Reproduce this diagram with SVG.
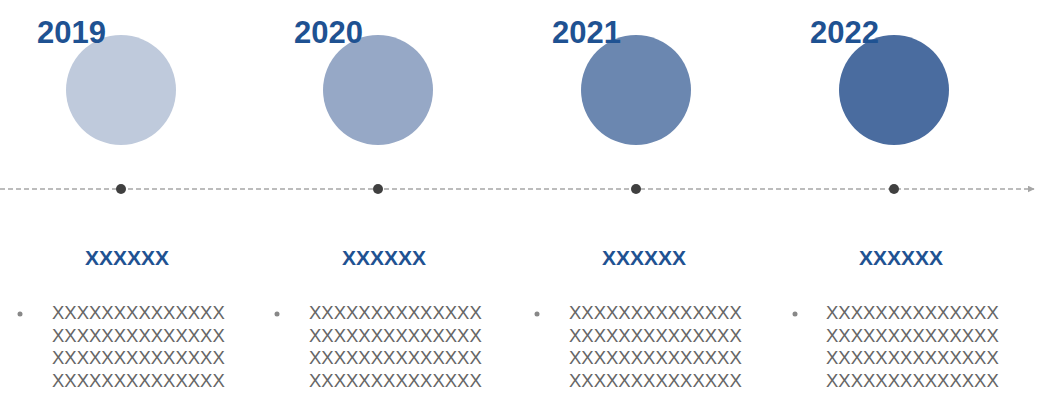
<svg xmlns="http://www.w3.org/2000/svg" width="1042" height="420" viewBox="0 0 1042 420">
<style>
.yr{font-family:"Liberation Sans",Arial,sans-serif;font-weight:bold;font-size:31px;fill:#1F5292}
.hd{font-family:"Liberation Sans",Arial,sans-serif;font-weight:bold;font-size:21px;fill:#1F5292;text-anchor:middle}
.bd{font-family:"Liberation Sans",Arial,sans-serif;font-size:18.5px;fill:#666666}
.dot{fill:#404040}
.bul{fill:#888888}
</style>
<defs>
<marker id="arr" viewBox="0 0 10 10" refX="9" refY="5" markerWidth="7" markerHeight="7" orient="auto" markerUnits="userSpaceOnUse" >
<path d="M0,0 L10,5 L0,10 z" fill="#A6A6A6"/>
</marker>
</defs>
<g id="connectors">
<line x1="0" y1="189" x2="1034" y2="189" stroke="#A6A6A6" stroke-width="1.5" stroke-dasharray="5,3" marker-end="url(#arr)"/>
</g>
<g id="node-2019">
<circle cx="121" cy="90" r="55" fill="#BFCADC"/>
<text class="yr" x="37" y="43">2019</text>
<circle class="dot" cx="121" cy="189" r="5"/>
<text class="hd" x="127" y="265">XXXXXX</text>
<circle class="bul" cx="20" cy="314" r="2.5"/>
<text class="bd" x="52" y="319">XXXXXXXXXXXXXX</text>
<text class="bd" x="52" y="342">XXXXXXXXXXXXXX</text>
<text class="bd" x="52" y="364">XXXXXXXXXXXXXX</text>
<text class="bd" x="52" y="387">XXXXXXXXXXXXXX</text>
</g>
<g id="node-2020">
<circle cx="378" cy="90" r="55" fill="#96A8C6"/>
<text class="yr" x="294" y="43">2020</text>
<circle class="dot" cx="378" cy="189" r="5"/>
<text class="hd" x="384" y="265">XXXXXX</text>
<circle class="bul" cx="277" cy="314" r="2.5"/>
<text class="bd" x="309" y="319">XXXXXXXXXXXXXX</text>
<text class="bd" x="309" y="342">XXXXXXXXXXXXXX</text>
<text class="bd" x="309" y="364">XXXXXXXXXXXXXX</text>
<text class="bd" x="309" y="387">XXXXXXXXXXXXXX</text>
</g>
<g id="node-2021">
<circle cx="636" cy="90" r="55" fill="#6B87B0"/>
<text class="yr" x="552" y="43">2021</text>
<circle class="dot" cx="636" cy="189" r="5"/>
<text class="hd" x="644" y="265">XXXXXX</text>
<circle class="bul" cx="537" cy="314" r="2.5"/>
<text class="bd" x="569" y="319">XXXXXXXXXXXXXX</text>
<text class="bd" x="569" y="342">XXXXXXXXXXXXXX</text>
<text class="bd" x="569" y="364">XXXXXXXXXXXXXX</text>
<text class="bd" x="569" y="387">XXXXXXXXXXXXXX</text>
</g>
<g id="node-2022">
<circle cx="894" cy="90" r="55" fill="#4A6C9F"/>
<text class="yr" x="810" y="43">2022</text>
<circle class="dot" cx="894" cy="189" r="5"/>
<text class="hd" x="901" y="265">XXXXXX</text>
<circle class="bul" cx="795" cy="314" r="2.5"/>
<text class="bd" x="826" y="319">XXXXXXXXXXXXXX</text>
<text class="bd" x="826" y="342">XXXXXXXXXXXXXX</text>
<text class="bd" x="826" y="364">XXXXXXXXXXXXXX</text>
<text class="bd" x="826" y="387">XXXXXXXXXXXXXX</text>
</g>
</svg>
